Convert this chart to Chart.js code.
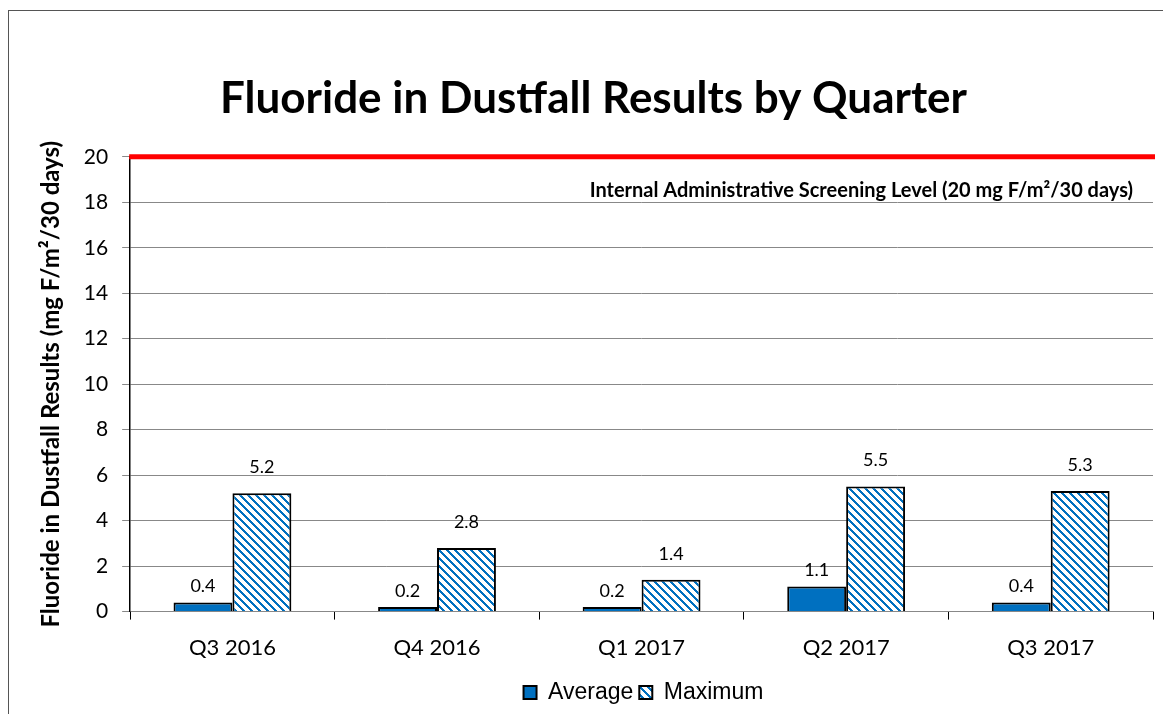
<!DOCTYPE html>
<html>
<head>
<meta charset="utf-8">
<script src="https://cdn.jsdelivr.net/npm/chart.js@4"></script>
<style>
  html, body { margin: 0; padding: 0; background: #fff; overflow: hidden; }
  #frame {
    position: absolute; left: 8px; top: 10px; width: 1200px; height: 720px;
    border: 1px solid #555; box-sizing: border-box;
  }
  #chart { position: absolute; left: 0; top: 0; }
</style>
</head>
<body>
<div id="frame"></div>
<canvas id="chart" width="1163" height="714"></canvas>
<script>
// data
const quarters = ['Q3 2016', 'Q4 2016', 'Q1 2017', 'Q2 2017', 'Q3 2017'];
const averageValues = [0.4, 0.2, 0.2, 1.1, 0.4];
const maximumValues = [5.2, 2.8, 1.4, 5.5, 5.3];
const yTicks = [0, 2, 4, 6, 8, 10, 12, 14, 16, 18, 20];
const screeningLevel = 20;
const screeningLabel = 'Internal Administrative Screening Level (20 mg F/m\u00b2/30 days)';

const BLUE = '#0070C0';
const TEXT_FONT = 'Lato, "Open Sans", sans-serif';

// diagonal stripe fill for the Maximum bars
function makeStripes() {
    const size = 8;
    const c = document.createElement('canvas');
    c.width = size;
    c.height = size;
    const g = c.getContext('2d');
    const img = g.createImageData(size, size);
    for (let y = 0; y < size; y++) {
        for (let x = 0; x < size; x++) {
            const i = (y * size + x) * 4;
            const on = ((x - y) % size + size) % size < 3;
            img.data[i] = on ? 0x00 : 255;
            img.data[i + 1] = on ? 0x70 : 255;
            img.data[i + 2] = on ? 0xC0 : 255;
            img.data[i + 3] = 255;
        }
    }
    g.putImageData(img, 0, 0);
    return g.createPattern(c, 'repeat');
}

const stripes = makeStripes();

// red screening line + its caption
const screeningPlugin = {
    id: 'screening',
    afterDatasetsDraw(chart) {
        const { ctx, chartArea, scales } = chart;
        const y = scales.y.getPixelForValue(screeningLevel);
        ctx.save();
        ctx.strokeStyle = '#FF0000';
        ctx.lineWidth = 5;
        ctx.beginPath();
        ctx.moveTo(chartArea.left - 1, y);
        ctx.lineTo(chartArea.right + 2, y);
        ctx.stroke();
        ctx.fillStyle = '#000';
        ctx.font = 'bold 20px ' + TEXT_FONT;
        ctx.textAlign = 'right';
        ctx.textBaseline = 'middle';
        ctx.fillText(screeningLabel, chartArea.right - 20, y + 34);
        ctx.restore();
    }
};

// value labels above each bar
const valueLabels = {
    id: 'valueLabels',
    afterDatasetsDraw(chart) {
        const { ctx } = chart;
        ctx.save();
        ctx.fillStyle = '#000';
        ctx.font = '18px ' + TEXT_FONT;
        ctx.textAlign = 'center';
        ctx.textBaseline = 'middle';
        chart.data.datasets.forEach((ds, di) => {
            const offset = di === 0 ? 16 : 26;
            chart.getDatasetMeta(di).data.forEach((bar, i) => {
                ctx.fillText(ds.data[i].toFixed(1), bar.x, bar.y - offset);
            });
        });
        ctx.restore();
    }
};

// the legend in the original sits right of centre
const legendShift = {
    id: 'legendShift',
    afterLayout(chart) {
        chart.legend.left += 50;
        chart.legend.right += 50;
    }
};

new Chart(document.getElementById('chart'), {
    type: 'bar',
    data: {
        labels: quarters,
        datasets: [
            {
                label: 'Average',
                data: averageValues,
                backgroundColor: BLUE,
                borderColor: '#000',
                borderWidth: 2,
                borderSkipped: 'bottom'
            },
            {
                label: 'Maximum',
                data: maximumValues,
                backgroundColor: stripes,
                borderColor: '#000',
                borderWidth: 2,
                borderSkipped: 'bottom'
            }
        ]
    },
    options: {
        responsive: false,
        animation: false,
        categoryPercentage: 0.576,
        barPercentage: 1,
        layout: { padding: { left: 34, right: 10, top: 0, bottom: 0 } },
        scales: {
            x: {
                grid: {
                    drawOnChartArea: false,
                    tickLength: 8,
                    color: '#000',
                    offset: true
                },
                border: { color: '#888' },
                ticks: {
                    color: '#000',
                    font: { family: TEXT_FONT, size: 22 },
                    padding: 15
                },
                afterFit(axis) {
                    axis.height -= 1;
                }
            },
            y: {
                min: 0,
                max: 20,
                afterBuildTicks(axis) {
                    axis.ticks = yTicks.map(v => ({ value: v }));
                },
                grid: { color: '#888', tickLength: 8 },
                border: { color: '#000', width: 1.5 },
                ticks: {
                    color: '#000',
                    font: { family: TEXT_FONT, size: 21 },
                    padding: 14
                },
                title: {
                    display: true,
                    text: 'Fluoride in Dustfall Results (mg F/m\u00b2/30 days)',
                    color: '#000',
                    font: { family: TEXT_FONT, size: 24, weight: 'bold' },
                    padding: { top: 3, bottom: 4 }
                }
            }
        },
        plugins: {
            title: {
                display: true,
                text: 'Fluoride in Dustfall Results by Quarter',
                color: '#000',
                font: { family: TEXT_FONT, size: 44, weight: 'bold' },
                padding: { top: 72, bottom: 32 }
            },
            legend: {
                position: 'bottom',
                labels: {
                    color: '#000',
                    font: { family: '"Liberation Sans", Arial, sans-serif', size: 23 },
                    boxWidth: 13,
                    boxHeight: 13,
                    padding: 6
                }
            },
            tooltip: { enabled: false }
        }
    },
    plugins: [screeningPlugin, valueLabels, legendShift]
});
</script>
</body>
</html>
